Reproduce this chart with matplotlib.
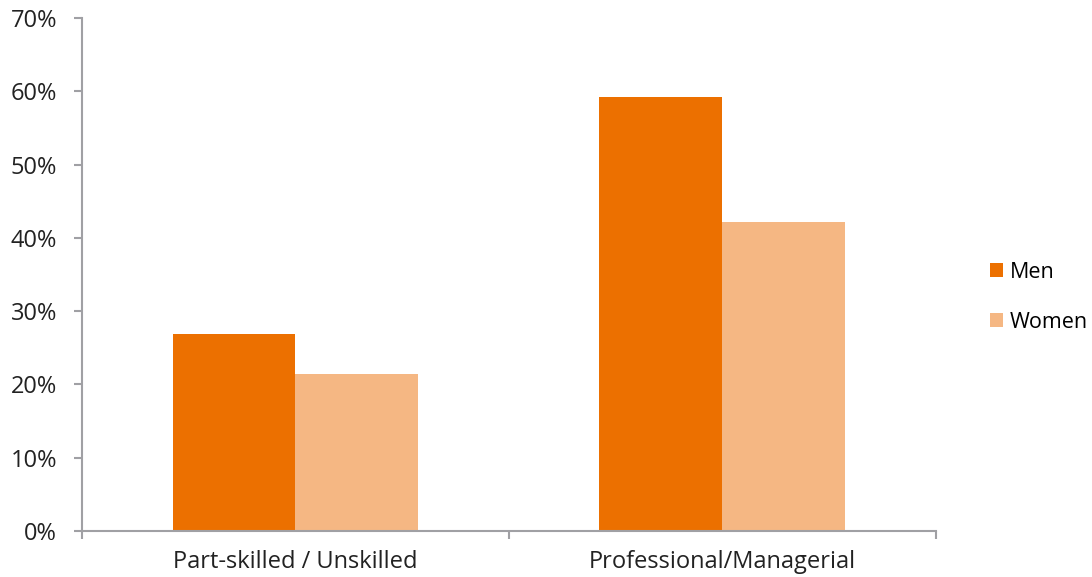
import numpy as np
import matplotlib.pyplot as plt
from matplotlib.ticker import FuncFormatter

categories = ["Part-skilled / Unskilled", "Professional/Managerial"]
men = [26.9, 59.2]
women = [21.4, 42.2]

MEN_COLOR = "#EC7000"
WOMEN_COLOR = "#F5B783"
AXIS_COLOR = "#A0A0A4"

plt.rcParams["font.family"] = ["Open Sans", "DejaVu Sans"]

fig = plt.figure(figsize=(10.92, 5.77), dpi=100)
ax = fig.add_axes([0.0751, 0.0797, 0.857 - 0.0751, 0.9688 - 0.0797])

x = np.arange(len(categories)) + 0.5
width = 0.288
ax.bar(x - width / 2, men, width, color=MEN_COLOR, label="Men")
ax.bar(x + width / 2, women, width, color=WOMEN_COLOR, label="Women")

ax.set_xlim(0, len(categories))
ax.set_ylim(0, 70)
ax.set_yticks(np.arange(0, 71, 10))
ax.yaxis.set_major_formatter(FuncFormatter(lambda v, p: f"{v:.0f}%"))

ax.set_xticks(np.arange(0, len(categories) + 1))
ax.set_xticklabels([])
ax.set_xticks(x, minor=True)
ax.set_xticklabels(categories, minor=True)
ax.tick_params(axis="x", which="minor", length=0, pad=14, labelsize=17, colors="#222222")
ax.tick_params(axis="x", which="major", length=6, width=1.5, color=AXIS_COLOR, direction="out")
ax.tick_params(axis="y", length=6, width=1.5, color=AXIS_COLOR, labelsize=17,
               labelcolor="#222222", pad=12)

for s in ["top", "right"]:
    ax.spines[s].set_visible(False)
for s in ["left", "bottom"]:
    ax.spines[s].set_color(AXIS_COLOR)
    ax.spines[s].set_linewidth(1.5)

fig.legend(loc="center left", bbox_to_anchor=(0.899, 0.485), frameon=False,
           fontsize=15.5, handlelength=0.6, handleheight=0.6, handletextpad=0.3,
           labelspacing=1.35, borderaxespad=0)

fig.savefig("out.png", dpi=100)
